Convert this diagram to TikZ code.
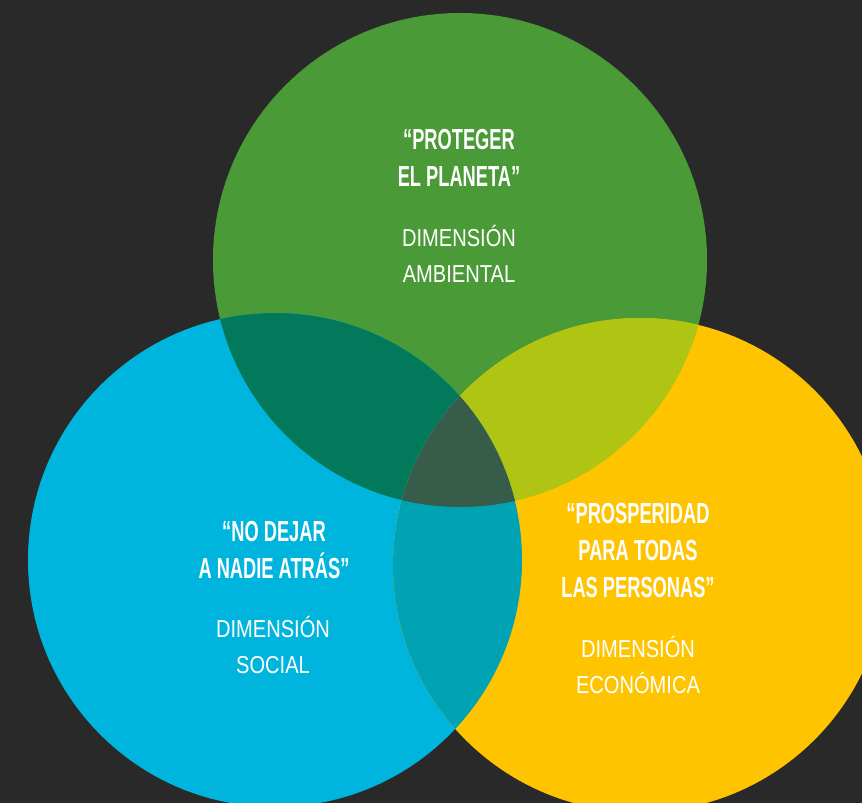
\documentclass[tikz,border=0pt]{standalone}
\usepackage{fontspec}
\newfontfamily\titlefont[FakeStretch=0.63]{Liberation Sans Bold}
\newfontfamily\dimfont[FakeStretch=0.82]{Liberation Sans}
\definecolor{bgdark}{HTML}{292929}
\definecolor{ambgreen}{HTML}{4A9A38}
\definecolor{socblue}{HTML}{00B5DD}
\definecolor{ecoyellow}{HTML}{FEC400}
\definecolor{ambsoc}{HTML}{03795C}
\definecolor{ambeco}{HTML}{B0C414}
\definecolor{soceco}{HTML}{00A3B4}
\definecolor{allthree}{HTML}{385C4A}

\begin{document}
\begin{tikzpicture}[
    x=1pt, y=-1pt,
    title/.style={text=white, align=center, font=\titlefont\fontsize{29}{37}\selectfont},
    dimension/.style={text=white, align=center, font=\dimfont\fontsize{24.5}{36}\selectfont}
  ]
  \def\circR{247}

  % Background
  \fill[bgdark] (0,0) rectangle (862,803);
  \useasboundingbox (0,0) rectangle (862,803);
  \clip (0,0) rectangle (862,803);

  % Circle centres
  \coordinate (amb) at (460,260);
  \coordinate (soc) at (275,560);
  \coordinate (eco) at (640,565);

  % Circles
  \fill[ambgreen] (amb) circle[radius=\circR];
  \fill[socblue] (soc) circle[radius=\circR];
  \fill[ecoyellow] (eco) circle[radius=\circR];

  % Overlaps
  \begin{scope}
    \clip (amb) circle[radius=\circR];
    \fill[ambsoc] (soc) circle[radius=\circR];
    \fill[ambeco] (eco) circle[radius=\circR];
  \end{scope}
  \begin{scope}
    \clip (soc) circle[radius=\circR];
    \fill[soceco] (eco) circle[radius=\circR];
  \end{scope}
  \begin{scope}
    \clip (amb) circle[radius=\circR];
    \clip (soc) circle[radius=\circR];
    \fill[allthree] (eco) circle[radius=\circR];
  \end{scope}

  % Labels
  \node[title] (ambtitle) at (459,158) {“PROTEGER\\EL PLANETA”};
  \node[dimension] (ambdim) at (459,254) {DIMENSIÓN\\AMBIENTAL};

  \node[title] (soctitle) at (274,550) {“NO DEJAR\\A NADIE ATRÁS”};
  \node[dimension] (socdim) at (273,645) {DIMENSIÓN\\SOCIAL};

  \node[title] (ecotitle) at (638,551) {“PROSPERIDAD\\PARA TODAS\\LAS PERSONAS”};
  \node[dimension] (ecodim) at (638,665) {DIMENSIÓN\\ECONÓMICA};

\end{tikzpicture}
\end{document}
